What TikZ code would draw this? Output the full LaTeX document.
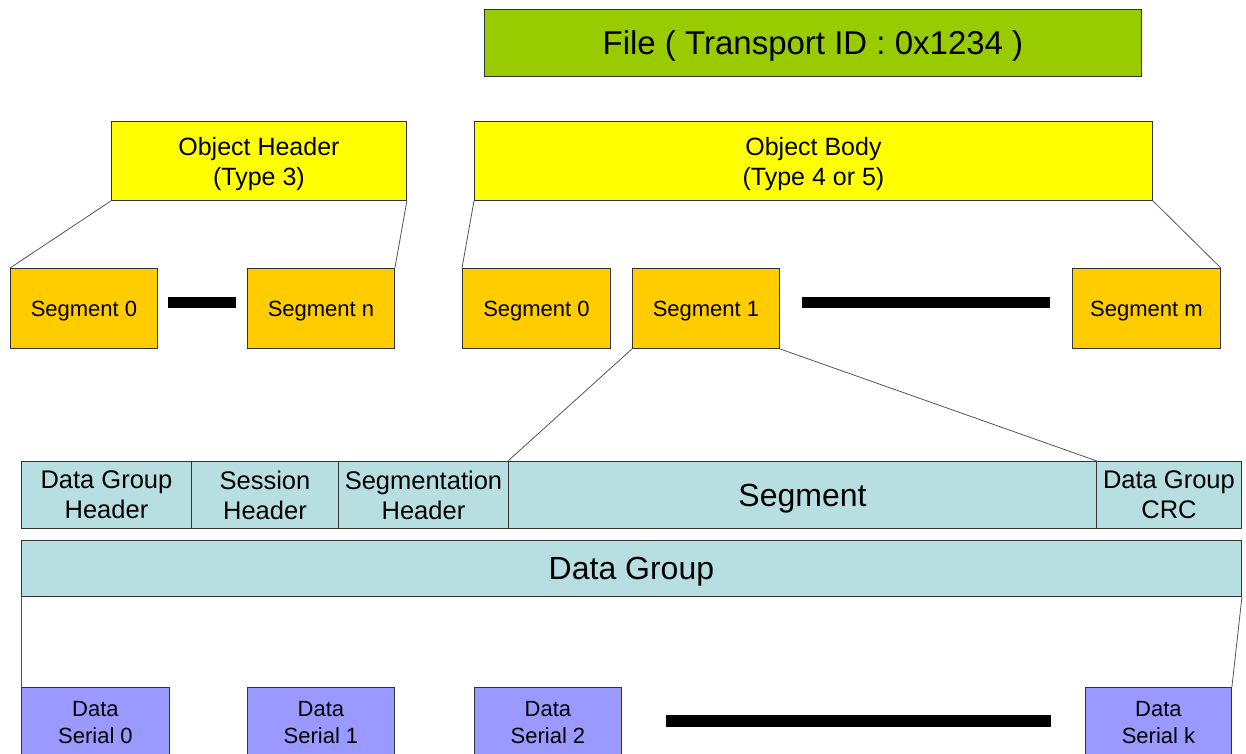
\documentclass[tikz,border=0pt]{standalone}
\usepackage{fontspec}
\setmainfont{Liberation Sans}
\definecolor{filegreen}{HTML}{99CC00}
\definecolor{objyellow}{HTML}{FFFF00}
\definecolor{segorange}{HTML}{FFCC00}
\definecolor{dgcyan}{HTML}{B7DEE1}
\definecolor{serialblue}{HTML}{9999FF}
\definecolor{boxline}{HTML}{333333}
\definecolor{linkgray}{HTML}{555555}
\tikzset{
  box/.style={draw=boxline, line width=0.9pt, inner sep=0pt, align=center, anchor=north west, text depth=0pt},
  filebox/.style={box, fill=filegreen, font={\fontsize{33}{38}\selectfont}},
  objbox/.style={box, fill=objyellow, minimum height=79, font={\fontsize{25}{30}\selectfont}},
  segbox/.style={box, fill=segorange, minimum height=80, font={\fontsize{22}{26}\selectfont}},
  cellbox/.style={box, fill=dgcyan, minimum height=67, font={\fontsize{25.5}{30}\selectfont}},
  bigcell/.style={cellbox, font={\fontsize{32}{36}\selectfont}},
  serialbox/.style={box, fill=serialblue, minimum height=70, font={\fontsize{22}{27}\selectfont}},
  bar/.style={fill=black, inner sep=0pt, draw=none},
  link/.style={draw=linkgray, line width=0.8pt}
}
\begin{document}
\begin{tikzpicture}[x=1pt,y=-1pt]
\useasboundingbox (0,0) rectangle (1246,753);
\clip (0,0) rectangle (1246,753);
\fill[white] (0,0) rectangle (1246,753);

% file and its two objects
\node[filebox, minimum width=657, minimum height=67] (file) at (484,9) {File ( Transport ID : 0x1234 )};
\node[objbox, minimum width=295] (hdr) at (111,121) {Object Header\\(Type 3)};
\node[objbox, minimum width=678] (body) at (474,121) {Object Body\\(Type 4 or 5)};

% segments of the header and the body
\node[segbox, minimum width=147] (hs0) at (10,268) {Segment 0};
\node[segbox, minimum width=147] (hsn) at (247,268) {Segment n};
\node[segbox, minimum width=148] (bs0) at (462,268) {Segment 0};
\node[segbox, minimum width=147] (bs1) at (632,268) {Segment 1};
\node[segbox, minimum width=148] (bsm) at (1072,268) {Segment m};
\node[bar, minimum width=68, minimum height=11] (gap1) at (202,302.5) {};
\node[bar, minimum width=248, minimum height=11] (gap2) at (926,302.5) {};

\draw[link] (hdr.south west) -- (hs0.north west);
\draw[link] (hdr.south east) -- (hsn.north east);
\draw[link] (body.south west) -- (bs0.north west);
\draw[link] (body.south east) -- (bsm.north east);

% data group layout
\node[cellbox, minimum width=170] (dgh) at (21,461) {Data Group\\Header};
\node[cellbox, minimum width=147] (ssh) at (191,461) {Session\\Header};
\node[cellbox, minimum width=170] (sgh) at (338,461) {Segmentation\\Header};
\node[bigcell, minimum width=588] (seg) at (508,461) {Segment};
\node[cellbox, minimum width=145] (crc) at (1096,461) {Data Group\\CRC};

\draw[link] (bs1.south west) -- (seg.north west);
\draw[link] (bs1.south east) -- (seg.north east);

\node[box, fill=dgcyan, minimum width=1220, minimum height=56, font={\fontsize{32}{36}\selectfont}] (dg) at (21,540) {Data Group};

% data group split into serials
\node[serialbox, minimum width=148] (ser0) at (21,687) {Data\\Serial 0};
\node[serialbox, minimum width=147] (ser1) at (247,687) {Data\\Serial 1};
\node[serialbox, minimum width=147] (ser2) at (474,687) {Data\\Serial 2};
\node[serialbox, minimum width=146] (serk) at (1085,687) {Data\\Serial k};
\node[bar, minimum width=385, minimum height=12] (gap3) at (858.5,721) {};

\draw[link] (dg.south west) -- (ser0.north west);
\draw[link] (dg.south east) -- (serk.north east);
\end{tikzpicture}
\end{document}
